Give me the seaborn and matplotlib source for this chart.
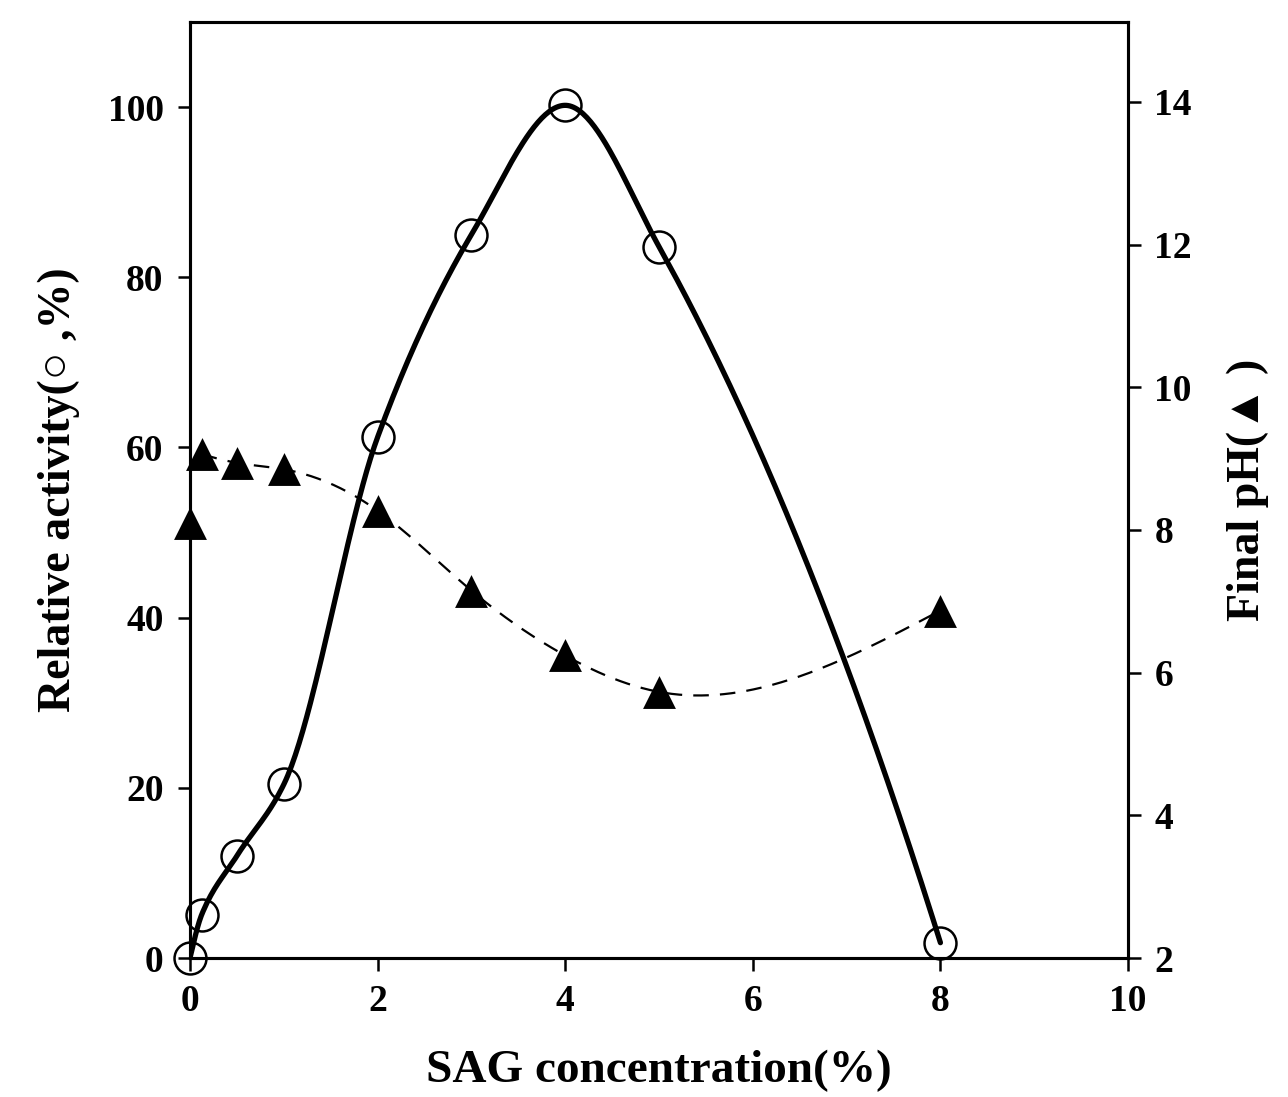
import matplotlib
matplotlib.use("Agg")
import matplotlib.pyplot as plt
import numpy as np
import pandas as pd
import seaborn as sns

# Данні
conc_act = [0, 0.125, 0.5, 1, 2, 3, 4, 5, 8]
activity = [0, 5.1, 12.0, 20.4, 61.2, 85.0, 100.2, 83.6, 1.8]

conc_ph = [0, 0.125, 0.5, 1, 2, 3, 4, 5, 8]
final_ph = [8.1, 9.06, 8.94, 8.85, 8.27, 7.15, 6.24, 5.73, 6.87]


def natural_spline(x, y, n=400):
    # гладка крива через точки (натуральний кубічний сплайн)
    x = np.asarray(x, float)
    y = np.asarray(y, float)
    k = len(x)
    h = np.diff(x)
    A = np.zeros((k, k))
    b = np.zeros(k)
    A[0, 0] = A[-1, -1] = 1
    for i in range(1, k - 1):
        A[i, i - 1] = h[i - 1]
        A[i, i] = 2 * (h[i - 1] + h[i])
        A[i, i + 1] = h[i]
        b[i] = 3 * ((y[i + 1] - y[i]) / h[i] - (y[i] - y[i - 1]) / h[i - 1])
    c = np.linalg.solve(A, b)
    bb = (y[1:] - y[:-1]) / h - h * (2 * c[:-1] + c[1:]) / 3
    d = (c[1:] - c[:-1]) / (3 * h)
    xs = np.linspace(x[0], x[-1], n)
    idx = np.clip(np.searchsorted(x, xs) - 1, 0, k - 2)
    dx = xs - x[idx]
    ys = y[idx] + bb[idx] * dx + c[idx] * dx ** 2 + d[idx] * dx ** 3
    return xs, ys


def pchip(x, y, n=400):
    # монотонний кубічний сплайн (Fritsch-Carlson)
    x = np.asarray(x, float)
    y = np.asarray(y, float)
    h = np.diff(x)
    delta = np.diff(y) / h
    k = len(x)
    m = np.zeros(k)
    for i in range(1, k - 1):
        if delta[i - 1] * delta[i] > 0:
            w1 = 2 * h[i] + h[i - 1]
            w2 = h[i] + 2 * h[i - 1]
            m[i] = (w1 + w2) / (w1 / delta[i - 1] + w2 / delta[i])
    m[0] = ((2 * h[0] + h[1]) * delta[0] - h[0] * delta[1]) / (h[0] + h[1])
    if np.sign(m[0]) != np.sign(delta[0]):
        m[0] = 0
    m[-1] = ((2 * h[-1] + h[-2]) * delta[-1] - h[-1] * delta[-2]) / (h[-1] + h[-2])
    if np.sign(m[-1]) != np.sign(delta[-1]):
        m[-1] = 0
    xs = np.linspace(x[0], x[-1], n)
    idx = np.clip(np.searchsorted(x, xs) - 1, 0, k - 2)
    t = (xs - x[idx]) / h[idx]
    h00 = 2 * t ** 3 - 3 * t ** 2 + 1
    h10 = t ** 3 - 2 * t ** 2 + t
    h01 = -2 * t ** 3 + 3 * t ** 2
    h11 = t ** 3 - t ** 2
    ys = (h00 * y[idx] + h10 * h[idx] * m[idx] + h01 * y[idx + 1]
          + h11 * h[idx] * m[idx + 1])
    return xs, ys


sns.set_theme(style="ticks")
serif = ['Liberation Serif', 'DejaVu Serif', 'DejaVu Sans']
plt.rcParams['font.family'] = serif
plt.rcParams['font.weight'] = 'bold'
plt.rcParams['axes.labelweight'] = 'bold'
for key in ('text.color', 'axes.labelcolor', 'xtick.color', 'ytick.color',
            'axes.edgecolor'):
    plt.rcParams[key] = 'black'

fig = plt.figure(figsize=(12.88, 10.97), dpi=100)
ax = fig.add_axes([0.1475, 0.1267, 0.7283, 0.8533])
ax2 = ax.twinx()

# Відносна активність (суцільна крива + кола)
xs, ys = pchip(conc_act, activity)
act_curve = pd.DataFrame({'x': xs, 'y': ys})
sns.lineplot(data=act_curve, x='x', y='y', ax=ax, color='black', linewidth=3.8,
             sort=False, estimator=None)
ax.plot(conc_act, activity, linestyle='none', marker='o', markersize=23,
        markerfacecolor='none', markeredgecolor='black', markeredgewidth=1.8,
        clip_on=False, zorder=5)

# Кінцевий pH (пунктир + трикутники)
xs2, ys2 = natural_spline(conc_ph[1:], final_ph[1:])
ph_curve = pd.DataFrame({'x': xs2, 'y': ys2})
sns.lineplot(data=ph_curve, x='x', y='y', ax=ax2, color='black', linewidth=1.6,
             sort=False, estimator=None)
ax2.lines[-1].set_dashes([7, 5])
ph_pts = pd.DataFrame({'x': conc_ph, 'y': final_ph})
sns.scatterplot(data=ph_pts, x='x', y='y', ax=ax2, marker='^', s=560,
                color='black', edgecolor='black', linewidth=0, clip_on=False,
                zorder=5)

ax.set_xlim(0, 10)
ax.set_ylim(0, 110)
ax2.set_ylim(2, 15.12)
ax.set_xticks([0, 2, 4, 6, 8, 10])
ax.set_yticks([0, 20, 40, 60, 80, 100])
ax2.set_yticks([2, 4, 6, 8, 10, 12, 14])

ax.set_xlabel('SAG concentration(%)', fontsize=34, labelpad=22)
ax.set_ylabel('Relative activity(○ ,%)', fontsize=33, labelpad=20)
ax2.set_ylabel('Final pH(▲ )', fontsize=33, labelpad=25)

for a in (ax, ax2):
    a.tick_params(labelsize=27, width=1.8, length=9, pad=10, direction='out')
    for s in a.spines.values():
        s.set_linewidth(2.2)
        s.set_visible(True)
ax.tick_params(axis='y', right=False)
ax2.tick_params(axis='y', left=False)

fig.savefig('out.png', dpi=100)
